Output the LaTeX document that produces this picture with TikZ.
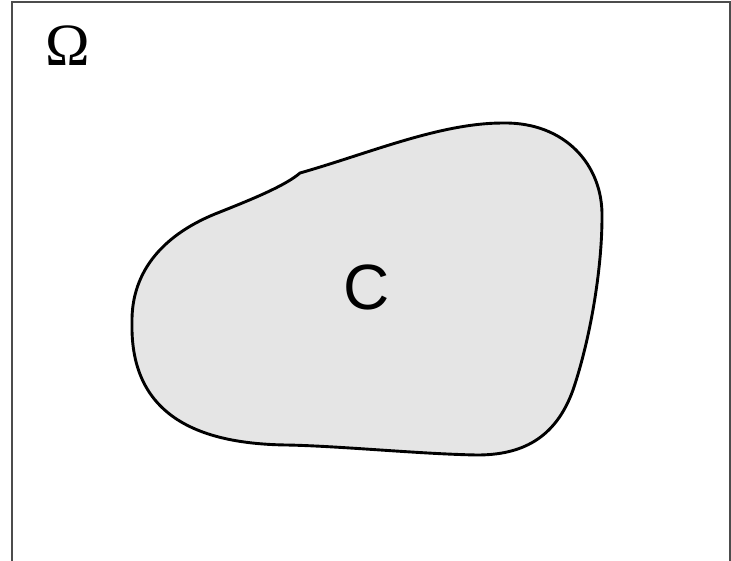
\documentclass[tikz,border=0pt]{standalone}
\usepackage{fontspec}
\setmainfont{Liberation Serif}
\newfontfamily\arialfont{Liberation Sans}
\begin{document}
\begin{tikzpicture}[x=1pt,y=-1pt,
  frame/.style={draw=black!70,line width=1.5pt},
  region/.style={draw=black,fill=black!10,line width=2.9pt,line join=round},
  lbl/.style={anchor=base,inner sep=0pt}]
\useasboundingbox (0,0) rectangle (731,560);
\draw[frame] (12,575) -- (12,2) -- (730,2) -- (730,575);
\coordinate (k) at (300,173);
\draw[region] (k)
  .. controls (370,153) and (440,123) .. (503,123)
  .. controls (565,122) and (603,165) .. (602,217)
  .. controls (602,270) and (590,340) .. (573,390)
  .. controls (555,440) and (520,455) .. (477,455)
  .. controls (420,454) and (340,446) .. (287,445)
  .. controls (205,444) and (130,420) .. (132,323)
  .. controls (131,270) and (165,233) .. (220,212)
  .. controls (250,200) and (285,186) .. (k) -- cycle;
\node[lbl,font=\fontsize{60}{64}\selectfont] (omega) at (67.5,65) {Ω};
\node[lbl,font=\arialfont\fontsize{64}{70}\selectfont] (c) at (366.5,309) {C};
\end{tikzpicture}
\end{document}
